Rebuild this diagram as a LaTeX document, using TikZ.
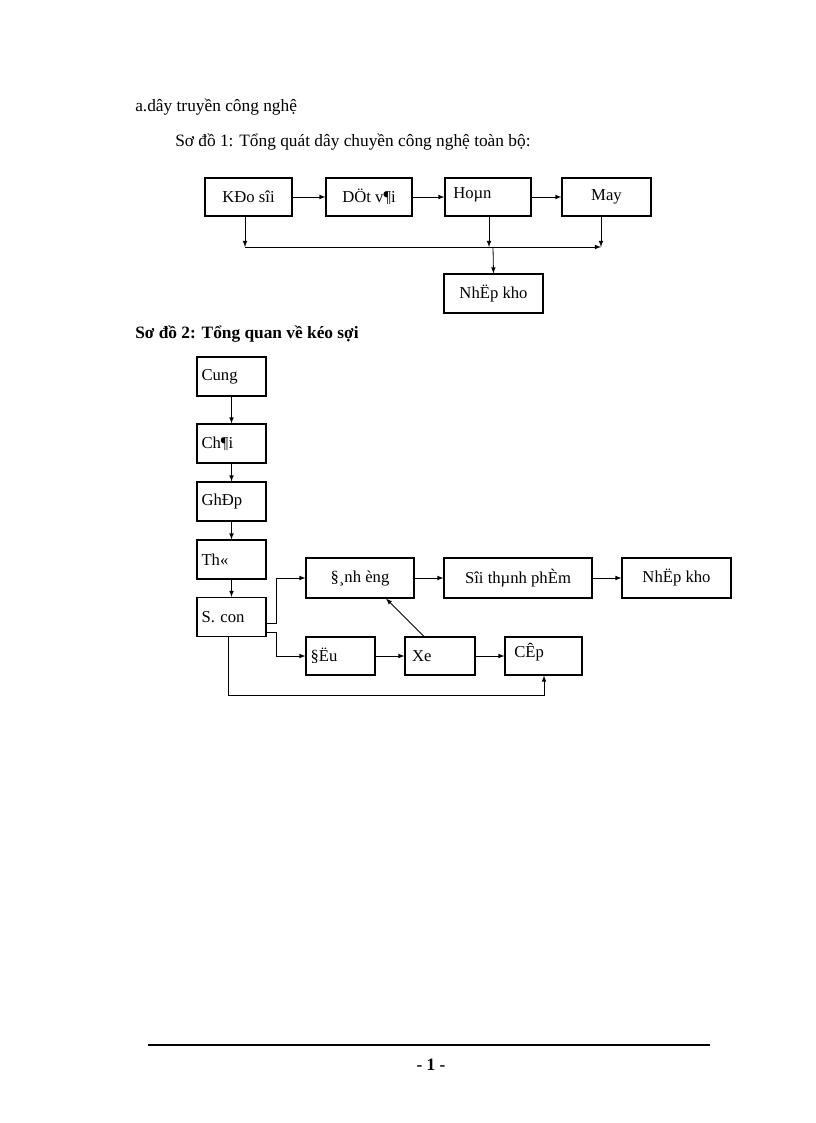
\documentclass[tikz,border=0pt]{standalone}
\usepackage{fontspec}
\setmainfont{Liberation Serif}
\begin{document}
\begin{tikzpicture}[x=0.75pt,y=-0.75pt,
  box/.style={draw,line width=0.8pt,inner sep=0pt,font=\fontsize{12.5}{14}\selectfont},
  ar/.style={-latex,line width=0.6pt},
  ln/.style={line width=0.6pt},
  txt/.style={anchor=west,inner sep=0pt,font=\fontsize{13}{15}\selectfont}]
\useasboundingbox (0,0) rectangle (816,1123);
\node[txt] (h1) at (135,107) {a.dây truyền công nghệ};
\node[txt] (h2) at (175,142) {Sơ đồ 1: Tổng quát dây chuyền công nghệ toàn bộ:};
\node[txt,font=\bfseries\fontsize{13}{15}\selectfont] (h3) at (135,334) {Sơ đồ 2: Tổng quan về kéo sợi};
% diagram 1
\node[box,minimum width=87*0.75pt,minimum height=38*0.75pt] (k) at (248.5,197) {KĐo sîi};
\node[box,minimum width=86*0.75pt,minimum height=38*0.75pt] (d) at (369,197) {DÖt v¶i};
\node[box,minimum width=86*0.75pt,minimum height=38*0.75pt] (h) at (488,197) {};
\node[anchor=west,inner sep=0pt,font=\fontsize{12.5}{14}\selectfont] (ht) at (453,195) {Hoµn};
\node[box,minimum width=89*0.75pt,minimum height=38*0.75pt] (m) at (606.5,197) {May};
\node[box,minimum width=99*0.75pt,minimum height=39*0.75pt] (n1) at (493.5,293.5) {NhËp kho};
\draw[ar] (k) -- (d);
\draw[ar] (d) -- (h);
\draw[ar] (h) -- (m);
\coordinate (c1) at (245,247);
\coordinate (c2) at (489,247);
\coordinate (c3) at (601,247);
\coordinate (c4) at (493,247);
\draw[ar] (k.south -| c1) -- (c1);
\draw[ar] (h.south -| c2) -- (c2);
\draw[ar] (m.south -| c3) -- (c3);
\draw[ar] (c1) -- (c3);
\draw[ar] (c4) -- (n1.north);
% diagram 2
\tikzset{vb/.style={box,minimum width=69*0.75pt,minimum height=39*0.75pt,text width=60*0.75pt,align=left}}
\node[vb] (cu) at (231.5,376.5) {Cung};
\node[vb] (ch) at (231.5,443.5) {Ch¶i};
\node[vb] (gh) at (231.5,501.5) {GhÐp};
\node[vb] (th) at (231.5,559.5) {Th«};
\node[vb] (sc) at (231.5,617) {S. con};
\draw[ar] (cu) -- (ch);
\draw[ar] (ch) -- (gh);
\draw[ar] (gh) -- (th);
\draw[ar] (th) -- (sc);
\node[box,minimum width=108*0.75pt,minimum height=40*0.75pt] (dn) at (360,578) {§¸nh èng};
\node[box,minimum width=148*0.75pt,minimum height=40*0.75pt] (st) at (518,578) {Sîi thµnh phÈm};
\node[box,minimum width=109*0.75pt,minimum height=40*0.75pt] (n2) at (676.5,578) {NhËp kho};
\node[box,minimum width=69*0.75pt,minimum height=38*0.75pt,text width=60*0.75pt,align=left] (da) at (340.5,656) {§Ëu};
\node[box,minimum width=70*0.75pt,minimum height=38*0.75pt,text width=56*0.75pt,align=left] (xe) at (440,656) {Xe};
\node[box,minimum width=77*0.75pt,minimum height=38*0.75pt] (cp) at (543.5,656) {};
\node[anchor=west,inner sep=0pt,font=\fontsize{12.5}{14}\selectfont] (cpt) at (514,652) {CÊp};
\draw[ar] (dn) -- (st);
\draw[ar] (st) -- (n2);
\draw[ar] (da) -- (xe);
\draw[ar] (xe) -- (cp);
\draw[ar] (xe.north -| 424,0) -- (dn.south -| 386,0);
\draw[ar] (sc.east |- 0,623) -| (276,578) -- (dn.west);
\draw[ar] (sc.east |- 0,632) -| (276,656) -- (da.west);
\draw[ar] (sc.south -| 228,0) |- (544,695) -- (cp.south -| 544,0);
% footer
\draw[line width=1.2pt] (148,1045) coordinate (f1) -- (710,1045) coordinate (f2);
\node[font=\bfseries\fontsize{13}{15}\selectfont] (pg) at (431,1065) {- 1 -};
\end{tikzpicture}
\end{document}
